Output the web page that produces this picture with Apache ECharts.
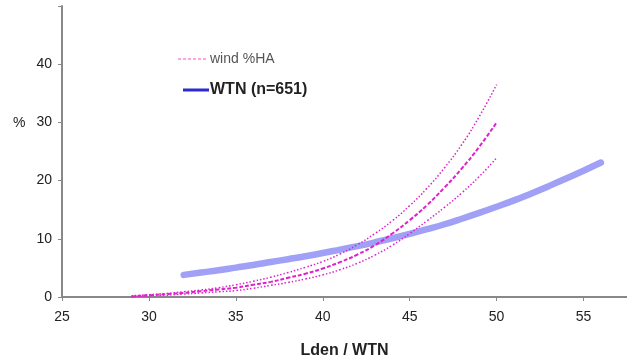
<!DOCTYPE html>
<html>
<head>
<meta charset="utf-8">
<script src="https://cdn.jsdelivr.net/npm/echarts@6/dist/echarts.min.js"></script>
<style>
  html, body { margin: 0; padding: 0; background: #fff; }
  #chart { width: 627px; height: 360px; }
</style>
</head>
<body>
<div id="chart"></div>
<script>
// Lden / WTN positions
const windX = [29, 30, 31, 32, 33, 34, 35, 36, 37, 38, 39, 40, 41, 42, 43, 44, 45, 46, 47, 48, 49, 50];
const windUpper = [0.2, 0.4, 0.6, 0.9, 1.2, 1.6, 2.1, 2.7, 3.4, 4.2, 5.1, 6.1, 7.4, 9.0, 10.9, 13.1, 15.7, 18.7, 22.2, 26.2, 31.0, 36.5];
const windMid = [0.1, 0.3, 0.5, 0.7, 1.0, 1.3, 1.6, 2.1, 2.6, 3.3, 4.0, 4.9, 6.0, 7.3, 8.9, 10.9, 13.2, 15.8, 18.8, 22.1, 25.8, 30.0];
const windLower = [0.05, 0.2, 0.3, 0.5, 0.7, 0.9, 1.1, 1.5, 2.0, 2.5, 3.1, 3.8, 4.7, 5.8, 7.2, 8.9, 10.9, 13.1, 15.4, 17.9, 20.7, 23.9];

const wtnX = [32, 33, 34, 35, 36, 37, 38, 39, 40, 41, 42, 43, 44, 45, 46, 47, 48, 49, 50, 51, 52, 53, 54, 55, 56];
const wtnY = [3.8, 4.2, 4.6, 5.05, 5.5, 6.0, 6.5, 7.0, 7.55, 8.15, 8.75, 9.4, 10.1, 10.85, 11.65, 12.5, 13.45, 14.45, 15.5, 16.6, 17.8, 19.05, 20.35, 21.7, 23.1];

const pairs = (xs, ys) => xs.map((x, i) => [x, ys[i]]);

const PINK = '#dd22cc';
const FONT = 'Liberation Sans';
const chart = echarts.init(document.getElementById('chart'));
chart.setOption({
  animation: false,
  grid: { left: 62, right: 0, top: 6, bottom: 63, containLabel: false, outerBoundsMode: 'none' },
  xAxis: {
    type: 'value',
    min: 25,
    max: 57.5,
    interval: 5,
    name: 'Lden / WTN',
    nameLocation: 'middle',
    nameGap: 46,
    nameTextStyle: { fontFamily: FONT, fontSize: 16, fontWeight: 'bold', color: '#222' },
    axisLine: { lineStyle: { color: '#888', width: 2 } },
    axisTick: { length: 4, lineStyle: { color: '#888' } },
    axisLabel: {
      margin: 13,
      showMaxLabel: false,
      fontFamily: FONT,
      fontSize: 14,
      color: '#222',
    },
    splitLine: { show: false },
  },
  yAxis: {
    type: 'value',
    min: 0,
    max: 50,
    interval: 10,
    axisLine: { show: true, lineStyle: { color: '#888', width: 2 } },
    axisTick: { show: true, length: 4, lineStyle: { color: '#888' } },
    axisLabel: {
      margin: 10,
      fontFamily: FONT,
      fontSize: 14,
      color: '#222',
      formatter: (v) => (v === 50 ? '' : v),
    },
    splitLine: { show: false },
  },
  graphic: [
    { type: 'text', left: 13, top: 116, style: { text: '%', font: '14px "Liberation Sans"', fill: '#222' } },
    { type: 'line', shape: { x1: 178, y1: 59, x2: 208, y2: 59 }, style: { stroke: '#ff88dd', lineWidth: 1.5, lineDash: [3, 2] } },
    { type: 'text', left: 210, top: 52, style: { text: 'wind %HA', font: '14px "Liberation Sans"', fill: '#555' } },
    { type: 'line', shape: { x1: 183, y1: 90, x2: 209, y2: 90 }, style: { stroke: '#2a2ad0', lineWidth: 3 } },
    { type: 'text', left: 210, top: 82, style: { text: 'WTN (n=651)', font: 'bold 16px "Liberation Sans"', fill: '#222' } },
  ],
  series: [
    {
      name: 'WTN (n=651)',
      type: 'line',
      smooth: true,
      showSymbol: false,
      data: pairs(wtnX, wtnY),
      lineStyle: { color: '#a0a0f7', width: 6.5, cap: 'round' },
    },
    {
      name: 'wind upper',
      type: 'line',
      smooth: true,
      showSymbol: false,
      data: pairs(windX, windUpper),
      lineStyle: { color: PINK, width: 1.5, type: [1.5, 2] },
    },
    {
      name: 'wind %HA',
      type: 'line',
      smooth: true,
      showSymbol: false,
      data: pairs(windX, windMid),
      lineStyle: { color: PINK, width: 2, type: [4, 2] },
    },
    {
      name: 'wind lower',
      type: 'line',
      smooth: true,
      showSymbol: false,
      data: pairs(windX, windLower),
      lineStyle: { color: PINK, width: 1.5, type: [1.5, 2] },
    },
  ],
});
</script>
</body>
</html>
